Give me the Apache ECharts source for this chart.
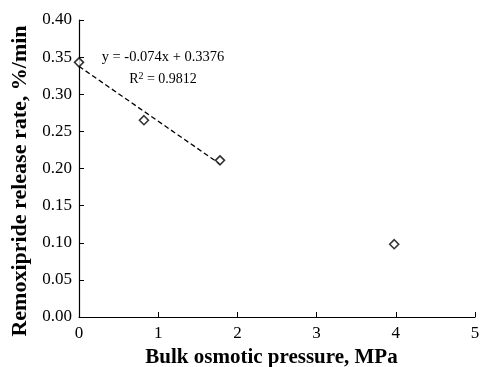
<!DOCTYPE html>
<html>
<head>
<meta charset="utf-8">
<script src="https://cdn.jsdelivr.net/npm/echarts@6/dist/echarts.min.js"></script>
<style>
  html, body { margin: 0; padding: 0; background: #fff; }
  #chart { width: 480px; height: 367px; }
</style>
</head>
<body>
<div id="chart"></div>
<script>
// measured points
const pressure = [0, 0.82, 1.78, 3.98];
const releaseRate = [0.343, 0.265, 0.211, 0.098];

// fitted trend line endpoints (y = -0.074x + 0.3376)
const trendX = [0, 1.78];
const trendY = [0.3376, 0.206];

const eqText = 'y = -0.074x + 0.3376';
const r2Text = 'R{sup|2} = 0.9812';

const serif = '"Liberation Serif", "DejaVu Serif", serif';

const chartDom = document.getElementById('chart');
const myChart = echarts.init(chartDom);

const option = {
  animation: false,
  backgroundColor: '#fff',
  grid: {
    left: 79,
    right: 5,
    top: 20,
    bottom: 50,
    containLabel: false,
    outerBoundsMode: 'none',
  },
  xAxis: {
    type: 'value',
    min: 0,
    max: 5,
    interval: 1,
    name: 'Bulk osmotic pressure, MPa',
    nameLocation: 'middle',
    nameGap: 27,
    nameTextStyle: {
      fontFamily: serif,
      fontWeight: 'bold',
      fontSize: 21,
      color: '#000',
      padding: [0, 11, 0, 0],
    },
    axisLine: { show: true, lineStyle: { color: '#000', width: 1.2 } },
    axisTick: { show: true, inside: true, length: 5, lineStyle: { color: '#000' } },
    axisLabel: {
      fontFamily: serif,
      fontSize: 17,
      color: '#000',
      margin: 8,
    },
    splitLine: { show: false },
  },
  yAxis: {
    type: 'value',
    min: 0,
    max: 0.4,
    interval: 0.05,
    name: 'Remoxipride release rate, %/min',
    nameLocation: 'middle',
    nameGap: 48,
    nameTextStyle: {
      fontFamily: serif,
      fontWeight: 'bold',
      fontSize: 22,
      color: '#000',
      padding: [0, 25, 0, 0],
    },
    axisLine: { show: true, lineStyle: { color: '#000', width: 1.2 } },
    axisTick: { show: true, inside: true, length: 5, lineStyle: { color: '#000' } },
    axisLabel: {
      fontFamily: serif,
      fontSize: 17,
      color: '#000',
      margin: 7,
      formatter: (v) => v.toFixed(2),
    },
    splitLine: { show: false },
  },
  series: [
    {
      name: 'trend',
      type: 'line',
      data: trendX.map((x, i) => [x, trendY[i]]),
      symbol: 'none',
      lineStyle: { color: '#000', width: 1.3, type: [5, 3] },
      z: 2,
    },
    {
      name: 'data',
      type: 'scatter',
      data: pressure.map((x, i) => [x, releaseRate[i]]),
      symbol: 'diamond',
      symbolSize: 9,
      itemStyle: { color: '#fff', borderColor: '#000', borderWidth: 1.6 },
      z: 3,
    },
  ],
  graphic: [
    {
      type: 'text',
      x: 163,
      y: 57,
      style: {
        text: eqText,
        fontFamily: serif,
        fontSize: 14.5,
        fill: '#000',
        align: 'center',
        verticalAlign: 'middle',
      },
    },
    {
      type: 'text',
      x: 163,
      y: 79,
      style: {
        text: r2Text,
        fontFamily: serif,
        fontSize: 14,
        fill: '#000',
        align: 'center',
        verticalAlign: 'middle',
        rich: {
          sup: { fontFamily: serif, fontSize: 10, verticalAlign: 'top', padding: [0, 0, 6, 0] },
        },
      },
    },
  ],
};

option && myChart.setOption(option);
</script>
</body>
</html>
